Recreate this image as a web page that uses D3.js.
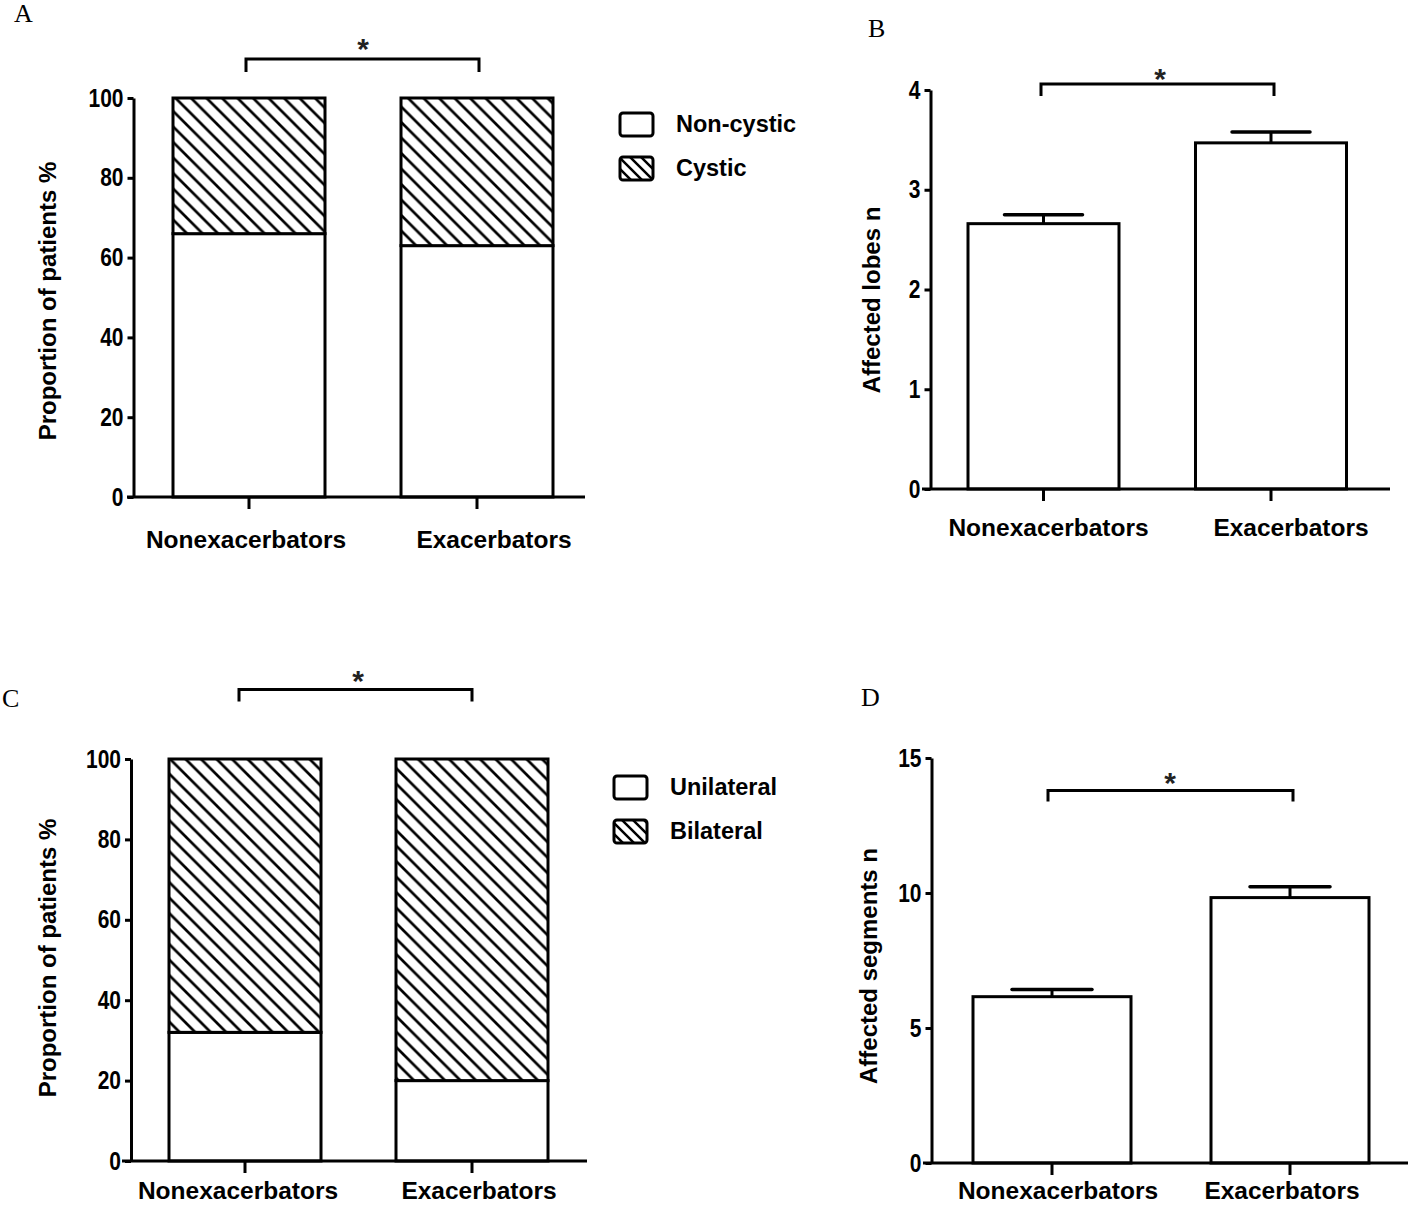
<!DOCTYPE html>
<html><head><meta charset="utf-8">
<script src="https://cdn.jsdelivr.net/npm/d3@7"></script>
<style>body{margin:0;background:#fff} svg{display:block}</style>
</head><body><svg id="c" width="1417" height="1220"></svg>
<script>
// ---------- DATA ----------
const categories = ["Nonexacerbators", "Exacerbators"];
const nonCystic = [66, 63];        // % of patients
const cystic = [34, 37];
const unilateral = [32, 20];
const bilateral = [68, 80];
const lobesMean = [2.66, 3.47];    // affected lobes n
const lobesSEM = [0.09, 0.11];
const segmentsMean = [6.16, 9.83]; // affected segments n
const segmentsSEM = [0.27, 0.40];
const percentTicks = [0, 20, 40, 60, 80, 100];
const lobesTicks = [0, 1, 2, 3, 4];
const segmentsTicks = [0, 5, 10, 15];
const legendA = ["Non-cystic", "Cystic"];
const legendC = ["Unilateral", "Bilateral"];
const panelLetters = ["A", "B", "C", "D"];
const yTitles = ["Proportion of patients %", "Affected lobes n", "Proportion of patients %", "Affected segments n"];
const sigMark = "*";

// ---------- STYLE / LAYOUT ----------
const TEXTFONT = "'Liberation Sans',Arial,sans-serif";
const SERIF = "'Liberation Serif','Times New Roman',serif";
const SW = 3;
const TICK_SQUEEZE = 0.84;

const svg = d3.select("#c");
svg.append("rect").attr("width", 1417).attr("height", 1220).attr("fill", "#fff");
const defs = svg.append("defs");
function hatch(id, s, w) {
  const p = defs.append("pattern").attr("id", id).attr("patternUnits", "userSpaceOnUse")
    .attr("width", s).attr("height", s);
  p.append("rect").attr("width", s).attr("height", s).attr("fill", "#fff");
  p.append("path")
    .attr("d", `M${-s/4},${-s/4}L${5*s/4},${5*s/4}M${-s/4},${3*s/4}L${s/4},${5*s/4}M${3*s/4},${-s/4}L${5*s/4},${s/4}`)
    .attr("stroke", "#000").attr("stroke-width", w).attr("fill", "none");
}
hatch("hatch", 15.5, 2.7);
hatch("hatchLeg", 11, 2.5);

const layouts = [
  { letter: [14, 22], yRange: [497, 98], yDomain: [0, 100], ticks: percentTicks, yAxisX: 133.5,
    centers: [249, 477], bw: 152, xLine: [127, 585], labelBase: 548, labelDx: [-3, 17],
    title: [56, 301], bracket: [246, 479, 59, 13], star: [363, 59],
    legend: { x: 620, ys: [113, 157], labels: legendA } },
  { letter: [868, 37], yRange: [489, 90], yDomain: [0, 4], ticks: lobesTicks, yAxisX: 930.5,
    centers: [1043.5, 1271], bw: 151, xLine: [922, 1390], labelBase: 536, labelDx: [5, 20],
    title: [880, 300], bracket: [1041, 1274, 84, 12], star: [1160, 89], capW: 78 },
  { letter: [2, 707], yRange: [1161, 759], yDomain: [0, 100], ticks: percentTicks, yAxisX: 131,
    centers: [245, 472], bw: 152, xLine: [122, 587], labelBase: 1199, labelDx: [-7, 7],
    title: [56, 958], bracket: [239, 472, 689.5, 12], star: [358, 691],
    legend: { x: 614, ys: [776, 820], labels: legendC } },
  { letter: [861, 706], yRange: [1163, 758], yDomain: [0, 15], ticks: segmentsTicks, yAxisX: 931.5,
    centers: [1052, 1290], bw: 158, xLine: [923, 1408], labelBase: 1199, labelDx: [6, -8],
    title: [877, 966], bracket: [1048, 1293, 790.5, 11], star: [1170, 793], capW: 80 }
];

function makeX(L) {
  const step = L.centers[1] - L.centers[0];
  const pad = 1 - L.bw / step;
  return d3.scaleBand().domain(categories)
    .range([L.centers[0] - step / 2, L.centers[1] + step / 2])
    .paddingInner(pad).paddingOuter(pad / 2);
}

function drawFrame(L, idx) {
  const g = svg.append("g");
  g.append("text").attr("x", L.letter[0]).attr("y", L.letter[1]).text(panelLetters[idx])
    .attr("font-family", SERIF).attr("font-size", 26).attr("fill", "#000");
  g.append("text").attr("transform", `translate(${L.title[0]},${L.title[1]}) rotate(-90)`)
    .attr("text-anchor", "middle").text(yTitles[idx])
    .attr("font-family", TEXTFONT).attr("font-weight", "bold").attr("font-size", 24).attr("fill", "#000");
  const [bx0, bx1, by, bd] = L.bracket;
  g.append("path").attr("d", `M${bx0},${by + bd}V${by}H${bx1}V${by + bd}`)
    .attr("fill", "none").attr("stroke", "#000").attr("stroke-width", SW);
  g.append("text").attr("x", L.star[0]).attr("y", L.star[1]).attr("text-anchor", "middle").text(sigMark)
    .attr("font-family", TEXTFONT).attr("font-weight", "bold").attr("font-size", 30).attr("fill", "#222");
}

function drawAxes(L, x, y) {
  const y0 = y(0);
  svg.append("line").attr("x1", L.xLine[0]).attr("x2", L.xLine[1]).attr("y1", y0).attr("y2", y0)
    .attr("stroke", "#000").attr("stroke-width", SW);
  const gx = svg.append("g").attr("transform", `translate(0,${y0})`)
    .call(d3.axisBottom(x).tickSize(12).tickSizeOuter(0));
  gx.select(".domain").remove();
  gx.selectAll("line").attr("stroke", "#000").attr("stroke-width", SW);
  gx.selectAll("text").attr("y", L.labelBase - y0).attr("dy", 0)
    .attr("dx", (d, i) => L.labelDx[i])
    .attr("font-family", TEXTFONT).attr("font-weight", "bold").attr("font-size", 24.5).attr("fill", "#000");
  const gy = svg.append("g").attr("transform", `translate(${L.yAxisX},0)`)
    .call(d3.axisLeft(y).tickValues(L.ticks).tickSize(6).tickPadding(4).tickSizeOuter(0)
      .tickFormat(d3.format("d")));
  gy.selectAll("path,line").attr("stroke", "#000").attr("stroke-width", SW);
  gy.selectAll("text").attr("font-family", TEXTFONT).attr("font-weight", "bold")
    .attr("font-size", 25).attr("fill", "#000")
    .attr("x", -10 / TICK_SQUEEZE).attr("transform", `scale(${TICK_SQUEEZE},1)`);
}

function drawStacked(L, idx, lower, upper) {
  const x = makeX(L);
  const y = d3.scaleLinear().domain(L.yDomain).range(L.yRange);
  drawFrame(L, idx);
  const rows = categories.map((c, i) => ({ cat: c, lower: lower[i], upper: upper[i] }));
  const stack = d3.stack().keys(["lower", "upper"])(rows);
  const fills = ["#fff", "url(#hatch)"];
  const g = svg.append("g");
  stack.forEach((layer, li) => {
    g.selectAll(null).data(layer).join("rect")
      .attr("x", d => x(d.data.cat)).attr("width", x.bandwidth())
      .attr("y", d => y(d[1])).attr("height", d => y(d[0]) - y(d[1]))
      .attr("fill", fills[li]).attr("stroke", "#000").attr("stroke-width", SW);
  });
  drawAxes(L, x, y);
  const lg = svg.append("g");
  L.legend.labels.forEach((lab, i) => {
    lg.append("rect").attr("x", L.legend.x).attr("y", L.legend.ys[i]).attr("width", 33).attr("height", 23)
      .attr("rx", 3).attr("fill", i === 0 ? "#fff" : "url(#hatchLeg)")
      .attr("stroke", "#000").attr("stroke-width", SW);
    lg.append("text").attr("x", L.legend.x + 56).attr("y", L.legend.ys[i] + 19).text(lab)
      .attr("font-family", TEXTFONT).attr("font-weight", "bold").attr("font-size", 23.5).attr("fill", "#000");
  });
}

function drawBars(L, idx, mean, sem) {
  const x = makeX(L);
  const y = d3.scaleLinear().domain(L.yDomain).range(L.yRange);
  drawFrame(L, idx);
  const rows = categories.map((c, i) => ({ cat: c, m: mean[i], s: sem[i] }));
  const g = svg.append("g");
  g.selectAll(null).data(rows).join("line")
    .attr("x1", d => x(d.cat) + x.bandwidth() / 2).attr("x2", d => x(d.cat) + x.bandwidth() / 2)
    .attr("y1", d => y(d.m)).attr("y2", d => y(d.m + d.s))
    .attr("stroke", "#000").attr("stroke-width", SW);
  g.selectAll(null).data(rows).join("line")
    .attr("x1", d => x(d.cat) + x.bandwidth() / 2 - L.capW / 2)
    .attr("x2", d => x(d.cat) + x.bandwidth() / 2 + L.capW / 2)
    .attr("y1", d => y(d.m + d.s)).attr("y2", d => y(d.m + d.s))
    .attr("stroke", "#000").attr("stroke-width", SW + 0.5).attr("stroke-linecap", "round");
  g.selectAll(null).data(rows).join("rect")
    .attr("x", d => x(d.cat)).attr("width", x.bandwidth())
    .attr("y", d => y(d.m)).attr("height", d => y(0) - y(d.m))
    .attr("fill", "#fff").attr("stroke", "#000").attr("stroke-width", SW);
  drawAxes(L, x, y);
}

drawStacked(layouts[0], 0, nonCystic, cystic);
drawBars(layouts[1], 1, lobesMean, lobesSEM);
drawStacked(layouts[2], 2, unilateral, bilateral);
drawBars(layouts[3], 3, segmentsMean, segmentsSEM);
</script>
</body></html>
